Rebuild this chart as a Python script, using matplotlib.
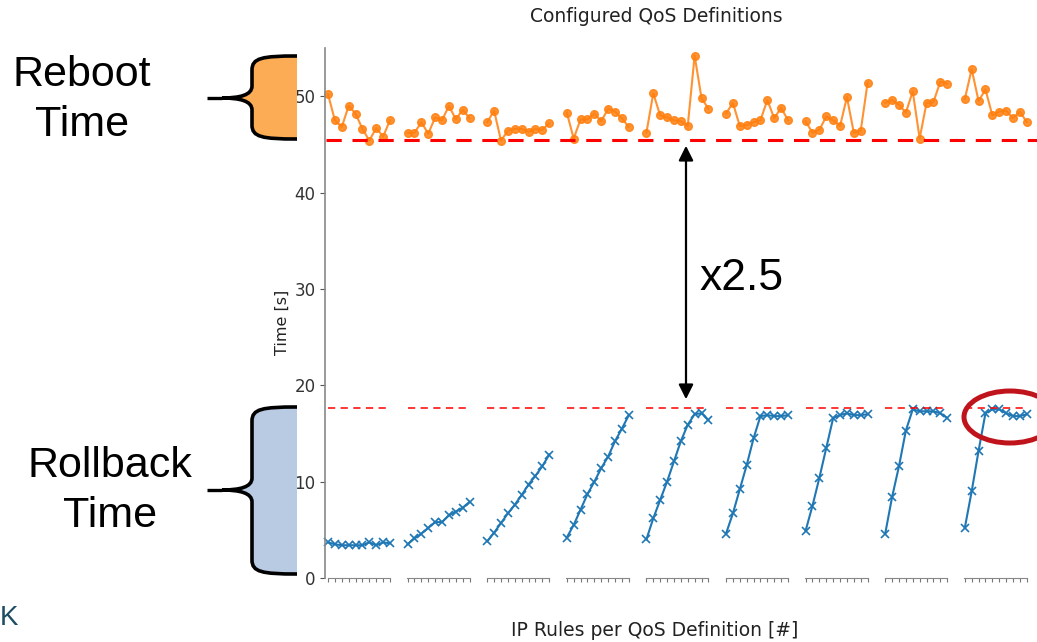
import matplotlib
matplotlib.use("Agg")
import matplotlib.pyplot as plt
from matplotlib.path import Path
from matplotlib.patches import PathPatch, Ellipse
from matplotlib.lines import Line2D
from matplotlib.transforms import blended_transform_factory

# ── Datos ────────────────────────────────────────────────────────────────────
rules = list(range(10))   # posiciones dentro de cada grupo

reboot = [
    [50.2, 47.5, 46.8, 49.0, 48.2, 46.6, 45.4, 46.7, 45.8, 47.5],
    [46.2, 46.2, 47.3, 46.1, 47.8, 47.5, 49.0, 47.6, 48.6, 47.7],
    [47.3, 48.5, 45.4, 46.4, 46.6, 46.6, 46.3, 46.6, 46.5, 47.2],
    [48.3, 45.6, 47.6, 47.6, 48.2, 47.4, 48.7, 48.4, 47.7, 46.8],
    [46.2, 50.3, 48.0, 47.8, 47.5, 47.4, 46.9, 54.2, 49.8, 48.7],
    [48.2, 49.3, 46.9, 47.0, 47.3, 47.5, 49.6, 47.7, 48.8, 47.5],
    [47.4, 46.2, 46.5, 47.9, 47.5, 46.9, 49.9, 46.2, 46.4, 51.4],
    [49.3, 49.6, 49.1, 48.3, 50.5, 45.6, 49.3, 49.4, 51.5, 51.3],
    [49.7, 52.8, 49.5, 50.7, 48.0, 48.4, 48.5, 47.7, 48.4, 47.3],
]

rollback = [
    [3.7, 3.5, 3.4, 3.4, 3.4, 3.4, 3.7, 3.4, 3.7, 3.6],
    [3.5, 4.1, 4.6, 5.2, 5.8, 5.8, 6.5, 6.9, 7.3, 7.9],
    [3.8, 4.7, 5.7, 6.7, 7.6, 8.6, 9.7, 10.6, 11.6, 12.8],
    [4.2, 5.5, 7.1, 8.7, 10.0, 11.4, 12.6, 14.2, 15.5, 16.9],
    [4.0, 6.2, 8.1, 10.0, 12.1, 14.2, 15.9, 17.0, 17.1, 16.4],
    [4.6, 6.7, 9.2, 11.7, 14.5, 16.8, 16.9, 16.8, 16.8, 16.9],
    [4.9, 7.5, 10.4, 13.5, 16.6, 16.9, 17.1, 16.9, 16.9, 17.0],
    [4.6, 8.4, 11.6, 15.3, 17.5, 17.3, 17.3, 17.3, 17.1, 16.6],
    [5.2, 9.0, 13.2, 17.1, 17.5, 17.5, 17.1, 16.8, 16.8, 17.0],
]

reboot_min = 45.5
rollback_max = 17.6
yticks = [0, 10, 20, 30, 40, 50]

W, H = 1037, 642
fig = plt.figure(figsize=(W / 100, H / 100), dpi=100)

# ── Subplots por grupo ───────────────────────────────────────────────────────
ax_w, ax_step, ax_left0 = 62, 79.6, 328
bottom, top = 578, 48
axes = []
for i, (rb, rl) in enumerate(zip(reboot, rollback)):
    left = ax_left0 + i * ax_step
    ax = fig.add_axes([left / W, 1 - bottom / H, ax_w / W, (bottom - top) / H])
    ax.patch.set_alpha(0)
    ax.plot(rules, rb, "-o", color="#ff7f0e", ms=5.5, lw=1.5, alpha=0.85, clip_on=False)
    ax.plot(rules, rl, "-x", color="#1f77b4", ms=6, lw=1.5, mew=1.2, clip_on=False)
    ax.axhline(rollback_max, color="red", ls=(0, (4, 3)), lw=1.3, alpha=0.85)
    ax.set_xlim(0, 9)
    ax.set_ylim(0, 55)
    ax.set_xticks(rules)
    ax.set_xticklabels([])
    ax.tick_params(axis="x", length=3, width=0.8, color="#777777")
    for s in ("top", "right"):
        ax.spines[s].set_visible(False)
    ax.spines["bottom"].set_color("#888888")
    ax.spines["bottom"].set_bounds(-0.05, 9)
    if i == 0:
        ax.set_yticks(yticks)
        ax.tick_params(axis="y", labelsize=12, labelcolor="#333333", color="#555555")
        ax.spines["left"].set_color("#888888")
        ax.spines["left"].set_linewidth(1.2)
        ax.spines["left"].set_position(("outward", 2))
    else:
        ax.spines["left"].set_visible(False)
        ax.set_yticks([])
    axes.append(ax)

fig.text(656 / W, 1 - 16 / H, "Configured QoS Definitions", ha="center", va="center",
         fontsize=13.5, color="#222222")
fig.text(655 / W, 1 - 631 / H, "IP Rules per QoS Definition [#]", ha="center", va="center",
         fontsize=13.5, color="#222222")
fig.text(282 / W, 1 - 322 / H, "Time [s]", rotation=90, ha="center", va="center",
         fontsize=11.5, color="#222222")

# línea roja gruesa (mínimo reboot)
trans = blended_transform_factory(fig.transFigure, axes[0].transData)
fig.add_artist(Line2D([326 / W, 1.0], [reboot_min, reboot_min], transform=trans,
                      color="red", lw=2.2, ls=(0, (5, 3.5))))

# ── Capa de anotaciones en píxeles ───────────────────────────────────────────
ov = fig.add_axes([0, 0, 1, 1])
ov.set_xlim(0, W)
ov.set_ylim(H, 0)
ov.axis("off")
ov.patch.set_alpha(0)

ov.annotate("", xy=(686, 143), xytext=(686, 402),
            arrowprops=dict(arrowstyle="<|-|>", color="black", lw=1.6, mutation_scale=22))
ov.text(699, 278, "x2.5", fontsize=32, family="Liberation Sans", va="center", ha="left")

ov.add_patch(Ellipse((1010, 417), 92, 52, fill=False, ec="#c0141c", lw=3.6))


def brace(x_tip, x_stem, x_right, y_top, y_bot, y_mid, color):
    upper = [
        (x_right, y_top),
        (x_stem + 10, y_top), (x_stem, y_top + 2), (x_stem, y_top + 14),
        (x_stem, y_mid - 12),
        (x_stem, y_mid - 3), (x_stem - 12, y_mid), (x_stem - 30, y_mid),
    ]
    lower = [
        (x_stem - 12, y_mid), (x_stem, y_mid + 3), (x_stem, y_mid + 12),
        (x_stem, y_bot - 14),
        (x_stem, y_bot - 2), (x_stem + 10, y_bot), (x_right, y_bot),
    ]
    codes_u = [Path.MOVETO, Path.CURVE4, Path.CURVE4, Path.CURVE4,
               Path.LINETO, Path.CURVE4, Path.CURVE4, Path.CURVE4]
    codes_l = [Path.CURVE4, Path.CURVE4, Path.CURVE4, Path.LINETO,
               Path.CURVE4, Path.CURVE4, Path.CURVE4]
    fill = Path(upper + lower + [(x_right, y_top)], codes_u + codes_l + [Path.CLOSEPOLY])
    ov.add_patch(PathPatch(fill, fc=color, ec="none"))
    stroke = Path(upper + lower, codes_u + codes_l)
    ov.add_patch(PathPatch(stroke, fc="none", ec="black", lw=2.6))
    ov.plot([x_tip, x_stem - 30], [y_mid, y_mid], color="black", lw=2.4,
            solid_capstyle="butt")


brace(207, 252, 297, 56, 139, 98, "#fbac55")
brace(207, 252, 297, 407, 574, 490, "#b9cbe3")

ov.text(82, 100, "Reboot\nTime", fontsize=31, family="Liberation Sans",
        ha="center", va="center", linespacing=1.3)
ov.text(110, 491, "Rollback\nTime", fontsize=31, family="Liberation Sans",
        ha="center", va="center", linespacing=1.3)

ov.text(0, 618, "K", fontsize=20, color="#1d4d62", family="Liberation Sans",
        va="center", ha="left")

fig.savefig("out.png", dpi=100)
